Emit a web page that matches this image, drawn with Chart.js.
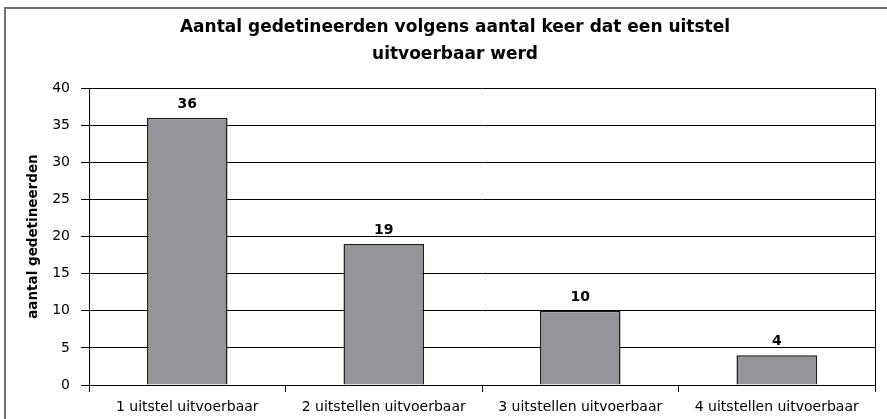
<!DOCTYPE html>
<html>
<head>
<meta charset="utf-8">
<script src="https://cdn.jsdelivr.net/npm/chart.js@4"></script>
<style>
    body { margin: 0; background: #fff; overflow: hidden; }
    #wrap { position: relative; width: 887px; height: 419px; }
</style>
</head>
<body>
<div id="wrap">
    <canvas id="chart" width="887" height="419"></canvas>
</div>
<script>
const categories = ["1 uitstel uitvoerbaar", "2 uitstellen uitvoerbaar", "3 uitstellen uitvoerbaar", "4 uitstellen uitvoerbaar"];
const counts = [36, 19, 10, 4];
const titleLines = ["Aantal gedetineerden volgens aantal keer dat een uitstel", "uitvoerbaar werd"];
const yTitle = "aantal gedetineerden";

const FONT = "'DejaVu Sans', sans-serif";

// grey frame round the whole chart (only top and left fall inside the picture)
const outerFrame = {
    id: "outerFrame",
    beforeDraw(chart) {
        const ctx = chart.ctx;
        ctx.save();
        ctx.strokeStyle = "#707070";
        ctx.lineWidth = 2;
        ctx.beginPath();
        ctx.moveTo(5, chart.height + 5);
        ctx.lineTo(5, 8);
        ctx.lineTo(chart.width + 5, 8);
        ctx.stroke();
        ctx.restore();
    }
};

// value labels above each bar
const valueLabels = {
    id: "valueLabels",
    afterDatasetsDraw(chart) {
        const ctx = chart.ctx;
        const meta = chart.getDatasetMeta(0);
        ctx.save();
        ctx.font = "bold 14px " + FONT;
        ctx.fillStyle = "#000";
        ctx.textAlign = "center";
        ctx.textBaseline = "alphabetic";
        meta.data.forEach((bar, i) => {
            ctx.fillText(String(counts[i]), bar.x, bar.y - 10);
        });
        ctx.restore();
    }
};

// closing line on the right side of the plot area
const rightEdge = {
    id: "rightEdge",
    afterDraw(chart) {
        const { ctx, chartArea } = chart;
        const x = Math.round(chartArea.right) + 0.5;
        ctx.save();
        ctx.strokeStyle = "#000";
        ctx.lineWidth = 1;
        ctx.beginPath();
        ctx.moveTo(x, chartArea.top);
        ctx.lineTo(x, chartArea.bottom);
        ctx.stroke();
        ctx.restore();
    }
};

new Chart(document.getElementById("chart"), {
    type: "bar",
    data: {
        labels: categories,
        datasets: [{
            data: counts,
            backgroundColor: "#939598",
            borderColor: "#1a1a1a",
            borderWidth: 1.5,
            categoryPercentage: 1,
            barPercentage: 0.41
        }]
    },
    options: {
        responsive: false,
        animation: false,
        layout: { padding: { left: 23, right: 0, top: 0, bottom: 0 } },
        plugins: {
            legend: { display: false },
            tooltip: { enabled: false },
            title: {
                display: true,
                text: titleLines,
                color: "#000",
                font: { family: FONT, size: 17, weight: "bold", lineHeight: 1.59 },
                padding: { top: 14, bottom: 20 }
            }
        },
        scales: {
            x: {
                grid: { drawOnChartArea: false, color: "#000", tickColor: "#000", tickLength: 7 },
                border: { color: "#000", width: 1 },
                ticks: { color: "#000", font: { family: FONT, size: 14 }, padding: 7, maxRotation: 0, autoSkip: false },
                afterFit: (scale) => { scale.height = 34; }
            },
            y: {
                min: 0,
                max: 40,
                ticks: { stepSize: 5, color: "#000", font: { family: FONT, size: 14 }, padding: 11 },
                grid: { color: "#000", tickLength: 8 },
                border: { color: "#000", width: 1 },
                title: {
                    display: true,
                    text: yTitle,
                    color: "#000",
                    font: { family: FONT, size: 13.5, weight: "bold" },
                    padding: { top: 2, bottom: 0 }
                },
                afterFit: (scale) => { scale.width = 66; }
            },
            // empty spacer on the right so the title stays centred like the original
            yRight: {
                position: "right",
                display: true,
                grid: { display: false },
                ticks: { display: false },
                border: { display: false },
                afterFit: (scale) => { scale.width = 12; }
            }
        }
    },
    plugins: [outerFrame, valueLabels, rightEdge]
});
</script>
</body>
</html>
